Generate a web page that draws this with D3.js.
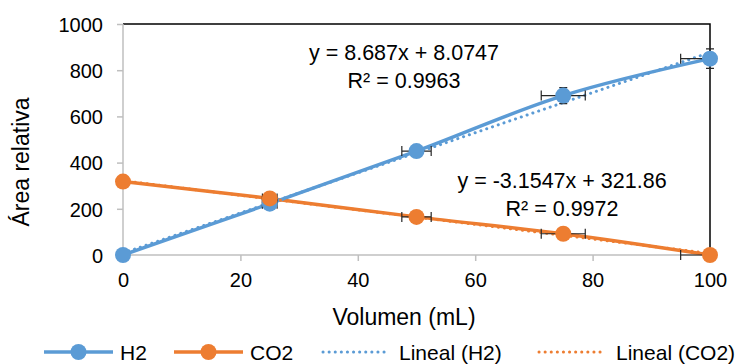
<!DOCTYPE html>
<html><head><meta charset="utf-8">
<script src="https://cdn.jsdelivr.net/npm/d3@7"></script>
<style>
html,body{margin:0;padding:0;background:#fff;}
svg text{font-family:"Liberation Sans",Arial,sans-serif;fill:#000;}
</style></head>
<body><svg id="c" width="752" height="364"></svg>
<script>
const volumes = [0, 25, 50, 75, 100];
const h2 = [0, 222, 450, 690, 850];
const co2 = [318, 245, 165, 92, 0];
const errX = [0, 1.25, 2.5, 3.75, 5];
const h2ErrY = [0, 11, 22.5, 34.5, 42.5];
const co2ErrY = [16, 12, 8, 4.6, 0];
const h2Fit = [8.687, 8.0747];
const co2Fit = [-3.1547, 321.86];
const xTicks = [0, 20, 40, 60, 80, 100];
const yTicks = [0, 200, 400, 600, 800, 1000];
const h2Eq = ["y = 8.687x + 8.0747", "R² = 0.9963"];
const co2Eq = ["y = -3.1547x + 321.86", "R² = 0.9972"];
const legendLabels = ["H2", "CO2", "Lineal (H2)", "Lineal (CO2)"];

const blue = "#5B9BD5", orange = "#ED7D31";
const svg = d3.select("#c");
const x = d3.scaleLinear().domain([0, 100]).range([123, 710]);
const y = d3.scaleLinear().domain([0, 1000]).range([255, 24]);

// border top & right
svg.append("path").attr("d", `M${x(0)},${y(1000)}H${x(100)}V${y(0)}`)
  .attr("fill", "none").attr("stroke", "#000").attr("stroke-width", 1.5);

// axes
const yAxis = svg.append("g").attr("transform", `translate(${x(0)},0)`)
  .call(d3.axisLeft(y).tickValues(yTicks).tickFormat(d3.format("d")).tickSize(6).tickPadding(14));
const xAxis = svg.append("g").attr("transform", `translate(0,${y(0)})`)
  .call(d3.axisBottom(x).tickValues(xTicks).tickFormat(d3.format("d")).tickSize(6).tickPadding(12));
[yAxis, xAxis].forEach(g => {
  g.select(".domain").attr("stroke", "#BFBFBF").attr("stroke-width", 1.5);
  g.selectAll(".tick line").attr("stroke", "#BFBFBF").attr("stroke-width", 1.5);
  g.selectAll(".tick text").attr("font-size", 20).attr("fill", "#000")
   .style("font-family", '"Liberation Sans",Arial,sans-serif');
});
yAxis.selectAll(".tick text").attr("dy", "0.36em");
xAxis.selectAll(".tick text").attr("dy", "0.72em");
xAxis.select(".domain").attr("d", `M${x(0)},0H${x(100)}`);
yAxis.select(".domain").attr("d", `M0,${y(0)}V${y(1000)}`);

// axis titles
svg.append("text").attr("x", 404).attr("y", 325).attr("text-anchor", "middle")
  .attr("font-size", 23).text("Volumen (mL)");
svg.append("text").attr("transform", "translate(29,162) rotate(-90)")
  .attr("text-anchor", "middle").attr("font-size", 23).text("Área relativa");

const line = d3.line().x(d => x(d[0])).y(d => y(d[1])).curve(d3.curveCatmullRom);
const straight = d3.line().x(d => x(d[0])).y(d => y(d[1]));

const h2Pts = volumes.map((v, i) => [v, h2[i]]);
const co2Pts = volumes.map((v, i) => [v, co2[i]]);

// series lines
svg.append("path").attr("d", line(co2Pts)).attr("fill", "none")
  .attr("stroke", orange).attr("stroke-width", 3.5);
svg.append("path").attr("d", line(h2Pts)).attr("fill", "none")
  .attr("stroke", blue).attr("stroke-width", 3.5);

// trend lines
function trend(fit, color) {
  svg.append("path").attr("d", straight([[0, fit[1]], [100, fit[0] * 100 + fit[1]]]))
    .attr("fill", "none").attr("stroke", color).attr("stroke-width", 3)
    .attr("stroke-linecap", "round").attr("stroke-dasharray", "0.1,6");
}
trend(h2Fit, blue);
trend(co2Fit, orange);

// error bars
function errBars(pts, ey) {
  const g = svg.append("g").attr("stroke", "#262626").attr("stroke-width", 1.2).attr("fill", "none");
  pts.forEach((p, i) => {
    const cx = x(p[0]), cy = y(p[1]);
    if (errX[i] > 0) {
      const x0 = x(p[0] - errX[i]), x1 = x(Math.min(100, p[0] + errX[i]));
      g.append("path").attr("d", `M${x0},${cy}H${x1}M${x0},${cy - 5}V${cy + 5}` +
        (p[0] + errX[i] <= 100 ? `M${x1},${cy - 5}V${cy + 5}` : ""));
    }
    if (ey[i] > 0) {
      const y0 = y(p[1] - ey[i]), y1 = y(p[1] + ey[i]);
      g.append("path").attr("d", `M${cx},${y0}V${y1}M${cx - 4},${y0}H${cx + 4}M${cx - 4},${y1}H${cx + 4}`);
    }
  });
}
errBars(h2Pts, h2ErrY);
errBars(co2Pts, co2ErrY);

// markers
svg.append("g").selectAll("circle").data(h2Pts).join("circle")
  .attr("cx", d => x(d[0])).attr("cy", d => y(d[1])).attr("r", 8).attr("fill", blue);
svg.append("g").selectAll("circle").data(co2Pts).join("circle")
  .attr("cx", d => x(d[0])).attr("cy", d => y(d[1])).attr("r", 8).attr("fill", orange);

// equations
function eq(lines, cx, cy) {
  lines.forEach((t, i) => svg.append("text").attr("x", cx).attr("y", cy + i * 28)
    .attr("text-anchor", "middle").attr("font-size", 21.5).text(t));
}
eq(h2Eq, 404, 60);
eq(co2Eq, 562, 188);

// legend
const ly = 352;
const leg = [
  {x0: 44, x1: 113, color: blue, marker: true, tx: 120},
  {x0: 174, x1: 243, color: orange, marker: true, tx: 250},
  {x0: 323, x1: 388, color: blue, marker: false, tx: 399},
  {x0: 539, x1: 604, color: orange, marker: false, tx: 616}
];
leg.forEach((l, i) => {
  const p = svg.append("path").attr("d", `M${l.x0},${ly}H${l.x1}`).attr("fill", "none")
    .attr("stroke", l.color);
  if (l.marker) {
    p.attr("stroke-width", 3.5);
    svg.append("circle").attr("cx", (l.x0 + l.x1) / 2).attr("cy", ly).attr("r", 8).attr("fill", l.color);
  } else {
    p.attr("stroke-width", 3).attr("stroke-linecap", "round").attr("stroke-dasharray", "0.1,6");
  }
  svg.append("text").attr("x", l.tx).attr("y", ly + 7.5).attr("font-size", 21).text(legendLabels[i]);
});
</script></body></html>
